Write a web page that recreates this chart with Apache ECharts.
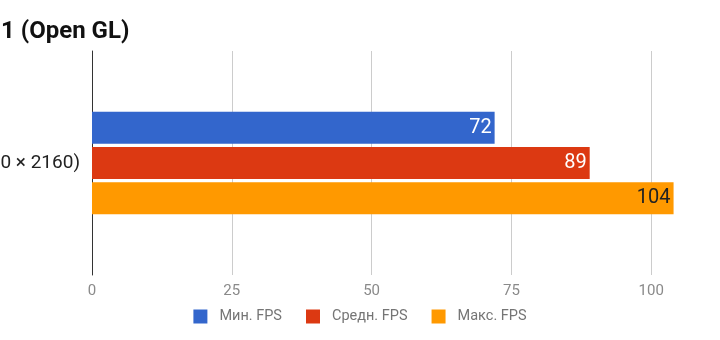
<!DOCTYPE html>
<html>
<head>
<meta charset="utf-8">
<script src="https://cdn.jsdelivr.net/npm/echarts@6/dist/echarts.min.js"></script>
<style>
  html, body { margin: 0; padding: 0; background: #fff; }
  #chart { width: 720px; height: 340px; }
</style>
</head>
<body>
<div id="chart"></div>
<script>
// Benchmark results, one resolution, three FPS measures
const categories = ['4K (3840 × 2160)'];
const seriesNames = ['Мин. FPS', 'Средн. FPS', 'Макс. FPS'];
const minFps = [72];
const avgFps = [89];
const maxFps = [104];
const tickValues = [0, 25, 50, 75, 100];

const colors = ['#3366CC', '#DC3912', '#FF9900'];
const labelColors = ['#ffffff', '#ffffff', '#222222'];
const values = [minFps, avgFps, maxFps];

const chart = echarts.init(document.getElementById('chart'), null, { renderer: 'canvas' });

chart.setOption({
  animation: false,
  textStyle: { fontFamily: 'Roboto' },
  title: {
    text: '1 (Open GL)',
    left: -4,
    top: 15,
    textStyle: { fontFamily: 'Roboto', fontWeight: 'bold', fontSize: 24, color: '#111' }
  },
  legend: {
    bottom: 11,
    left: 'center',
    itemWidth: 14,
    itemHeight: 14,
    itemGap: 24,
    icon: 'rect',
    textStyle: { color: '#757575', fontSize: 14.5, fontFamily: 'Roboto', padding: [0, 0, 0, 7] },
    data: seriesNames
  },
  grid: {
    left: 92, right: -71, top: 51, bottom: 65,
    containLabel: false,
    outerBoundsMode: 'none'
  },
  xAxis: {
    type: 'value',
    min: 0,
    max: 125,
    interval: 25,
    axisLine: { show: false },
    axisTick: { show: false },
    splitLine: { lineStyle: { color: '#cccccc', width: 1 } },
    axisLabel: {
      color: '#8a8a8a',
      fontSize: 15,
      margin: 9,
      formatter: v => tickValues.includes(v) ? String(v) : ''
    }
  },
  yAxis: {
    type: 'category',
    data: categories,
    axisLine: { show: true, lineStyle: { color: '#333', width: 1 } },
    axisTick: { show: false },
    axisLabel: { color: '#222', fontSize: 19, margin: 12, fontFamily: 'Roboto' }
  },
  series: values.map((vals, i) => ({
    name: seriesNames[i],
    type: 'bar',
    data: vals,
    barWidth: 32,
    barGap: '10%',
    itemStyle: { color: colors[i] },
    label: {
      show: true,
      position: 'insideRight',
      distance: 3,
      color: labelColors[i],
      fontSize: 20,
      fontFamily: 'Roboto'
    }
  }))
});
</script>
</body>
</html>
